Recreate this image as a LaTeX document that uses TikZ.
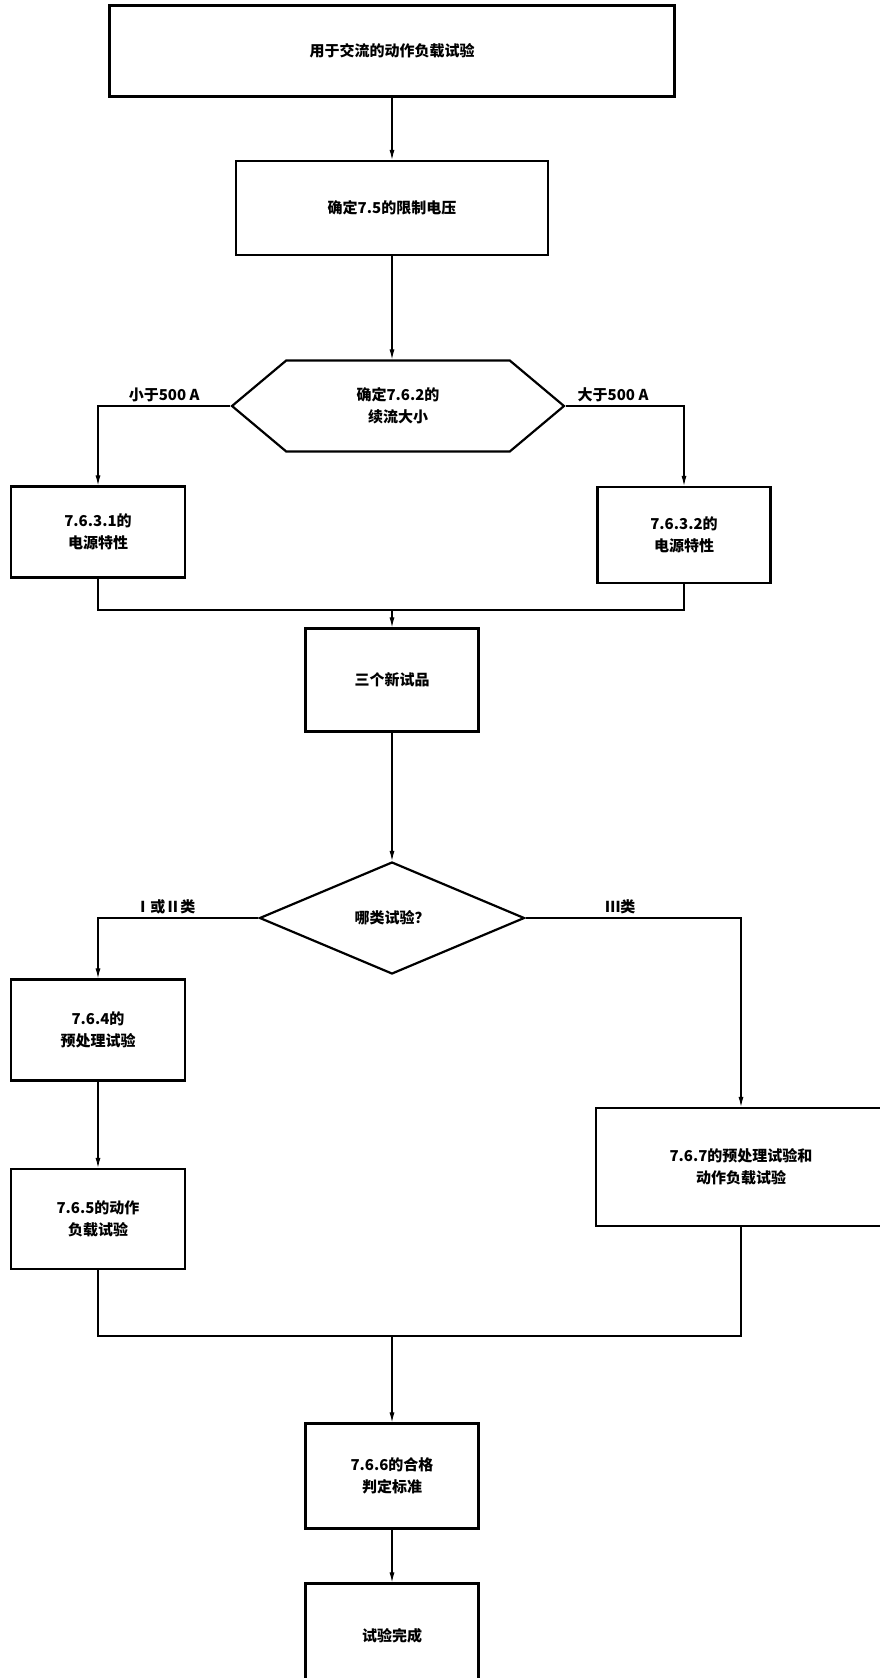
\documentclass[tikz,border=0pt]{standalone}
\usepackage{fontspec}
\setmainfont{Noto Sans CJK SC}
\usetikzlibrary{arrows.meta,shapes.geometric,shapes.symbols}

\begin{document}
\begin{tikzpicture}[x=1pt, y=-1pt,
    font=\fontsize{15}{22}\selectfont\bfseries,
    process/.style ={rectangle, draw, line width=2.2pt, align=center, inner sep=2pt},
    decision/.style ={diamond, draw, line width=2.2pt, align=center, inner sep=0pt},
    flow/.style ={line width=1.1pt, -{Latex[length=10pt,width=5pt]}},
    joint/.style ={line width=1.1pt}]
   \path[use as bounding box, fill=white] (0,0) rectangle (880,1678);
   \node[process, minimum width=565pt, minimum height=91pt] (A) at (392,51) {用于交流的动作负载试验};
   \node[process, minimum width=312pt, minimum height=94pt] (B) at (392,208) {确定7.5的限制电压};
   \node[process, signal, signal to=west and east, signal pointer angle=80,
         minimum width=332pt, minimum height=91pt] (C) at (398,406) {确定7.6.2的\\续流大小};
   \node[process, minimum width=174pt, minimum height=91pt] (D) at (98,532) {7.6.3.1的\\电源特性};
   \node[process, minimum width=173pt, minimum height=96pt] (E) at (684,535) {7.6.3.2的\\电源特性};
   \coordinate (m1) at (392,610);
   \node[process, minimum width=173pt, minimum height=103pt] (F) at (392,680) {三个新试品};
   \node[decision, minimum width=265pt, minimum height=112pt] (G) at (392,918) {哪类试验？};
   \node[process, minimum width=174pt, minimum height=101pt] (H) at (98,1030) {7.6.4的\\预处理试验};
   \node[process, minimum width=174pt, minimum height=100pt] (I) at (98,1219) {7.6.5的动作\\负载试验};
   \node[process, minimum width=290pt, minimum height=118pt] (J) at (741,1167) {7.6.7的预处理试验和\\动作负载试验};
   \coordinate (m2) at (392,1336);
   \node[process, minimum width=173pt, minimum height=105pt] (K) at (392,1476) {7.6.6的合格\\判定标准};
   \node[process, minimum width=173pt, minimum height=105pt] (L) at (392,1636) {试验完成};
   \draw[flow] (A) -- (B);
   \draw[flow] (B) -- (B |- C.north);
   \draw[flow] (C.west) -| node[pos=0.25, above] {小于500 A} (D);
   \draw[flow] (C.east) -| node[pos=0.2, above] {大于500 A} (E);
   \draw[joint] (D) |- (m1);
   \draw[joint] (E) |- (m1);
   \draw[flow] (m1) -- (F);
   \draw[flow] (F) -- (G);
   \draw[flow] (G.west) -| node[pos=0.29, above] {Ⅰ或Ⅱ类} (H);
   \draw[flow] (G.east) -| node[pos=0.22, above] {Ⅲ类} (J);
   \draw[flow] (H) -- (I);
   \draw[joint] (I) |- (m2);
   \draw[joint] (J) |- (m2);
   \draw[flow] (m2) -- (K);
   \draw[flow] (K) -- (L);
\end{tikzpicture}
\end{document}
